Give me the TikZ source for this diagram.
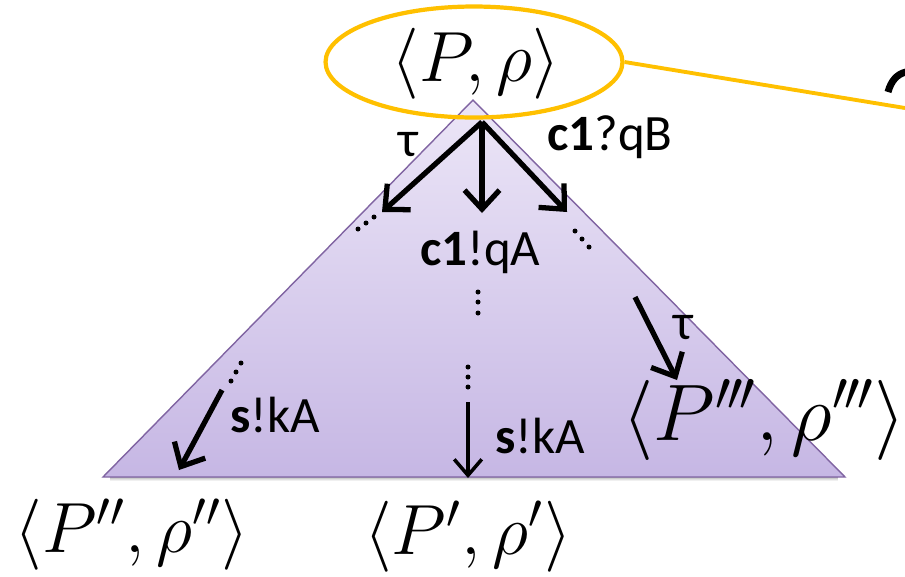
\documentclass[tikz,border=0pt]{standalone}
\usepackage{amsmath}
\usepackage{fontspec}
\setsansfont{Carlito}
\usetikzlibrary{shapes.geometric, arrows.meta, positioning}
\definecolor{cGold}{RGB}{255,192,0}
\definecolor{cLilac}{RGB}{128,100,162}
\definecolor{cTop}{RGB}{236,230,247}
\definecolor{cBot}{RGB}{198,183,228}
\newcommand{\tripr}{^{\prime\mkern-1mu\prime\mkern-1mu\prime}}
\tikzset{
	conf/.style   ={inner sep=0pt, font=\huge, scale=1.95, transform shape},
	bigconf/.style={inner sep=0pt, font=\huge, scale=2.2, transform shape},
	lbl/.style    ={inner sep=0pt, font=\sffamily\fontsize{29}{31}\selectfont},
	trans/.style  ={-{Straight Barb[length=3.8mm, width=7mm]}, line width=3pt},
	% thinner arrow at the bottom middle
	thintrans/.style={-{Straight Barb[length=3.2mm, width=5.5mm]}, line width=2pt},
}

\begin{document}
\begin{tikzpicture}[x=0.02cm, y=-0.02cm]
	\useasboundingbox (0,0) rectangle (905,576);
	\clip (0,0) rectangle (905,576);
	% the triangle of reachable states
	\coordinate (apex) at (473,100);
	\coordinate (bl) at (103,477);
	\coordinate (br) at (845,477);
	\foreach \k/\o in {1/0.30,2/0.20,3/0.12,4/0.06}
		\draw[black, opacity=\o, line width=0.6pt] ([yshift=-\k*0.5pt, xshift=4pt]bl) -- ([yshift=-\k*0.5pt, xshift=-4pt]br);
	\shadedraw[top color=cTop, bottom color=cBot, draw=cLilac, line width=0.8pt] (apex) -- (bl) -- (br) -- cycle;
	% initial configuration
	\node[ellipse, draw=cGold, line width=2.4pt, minimum width=5.94cm, minimum height=2.22cm] (init) at (474,62) {};
	\node[conf] (start) at (476,64) {$\langle P,\rho\rangle$};
	\coordinate (far) at (905,108);
	\draw[cGold, line width=2.2pt] (init.east) -- (far);
	\draw[line width=4pt] (888,92) .. controls (891,81) and (897,74) .. (906,72);
	% reached configurations
	\node[conf] (c2) at (132,535) {$\langle P'',\rho''\rangle$};
	\node[conf] (c1) at (468,537) {$\langle P',\rho'\rangle$};
	\node[bigconf] (c3) at (764,420) {$\langle P\tripr,\rho\tripr\rangle$};
	% transitions
	\coordinate (root) at (482,122);
	\coordinate (tl) at (382,212);
	\coordinate (tm) at (482,213);
	\coordinate (tr) at (567,212);
	\foreach \e in {tl,tm,tr} \draw[trans] (root) -- (\e);
	\coordinate (r1) at (635,297);
	\coordinate (r2) at (677,380);
	\draw[trans] (r1) -- (r2);
	\coordinate (l1) at (222,390);
	\coordinate (l2) at (179,470);
	\draw[trans] (l1) -- (l2);
	\coordinate (m1) at (468,402);
	\coordinate (m2) at (468,478);
	\draw[thintrans] (m1) -- (m2);
	% dots
	\foreach \p in {(358,229),(366,223),(374,217),(575,231),(582,239),(589,247),(478,292),(478,302),(478,313),(468,367),(468,377),(468,387),(241,363),(236,372),(231,381)}
		\fill \p circle (2.5);
	% labels
	\node[lbl] (ltau) at (408,145) {τ};
	\node[lbl, anchor=base west] (lqb) at (547,150) {\textbf{c1}?qB};
	\node[lbl, anchor=base west] (lqa) at (420,265) {\textbf{c1}!qA};
	\node[lbl] (rtau) at (683,328) {τ};
	\node[lbl, anchor=base west] (lka) at (230,432) {\textbf{s}!kA};
	\node[lbl, anchor=base west] (mka) at (495,453) {\textbf{s}!kA};
\end{tikzpicture}
\end{document}
